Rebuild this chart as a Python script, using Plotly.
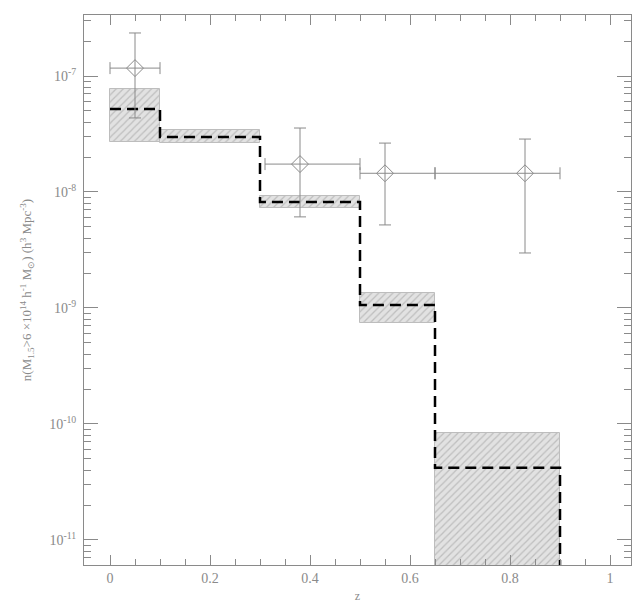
import plotly.graph_objects as go

# Histogram bins (redshift) and model prediction (dashed) with uncertainty boxes
bin_edges = [0.0, 0.1, 0.3, 0.5, 0.65, 0.9]
model_vals = [5.2e-8, 2.98e-8, 8.2e-9, 1.06e-9, 4.2e-11]
box_high = [7.7e-8, 3.42e-8, 9.2e-9, 1.35e-9, 8.4e-11]
box_low = [2.7e-8, 2.64e-8, 7.3e-9, 7.4e-10, 1.0e-12]
floor_val = 1.0e-12

# Observed points
obs_z = [0.05, 0.38, 0.55, 0.83]
obs_z_lo = [0.0, 0.31, 0.5, 0.65]
obs_z_hi = [0.1, 0.5, 0.65, 0.9]
obs_n = [1.17e-7, 1.74e-8, 1.45e-8, 1.45e-8]
obs_n_hi = [2.35e-7, 3.56e-8, 2.64e-8, 2.86e-8]
obs_n_lo = [4.35e-8, 6.1e-9, 5.2e-9, 2.98e-9]

x_tick_vals = [0, 0.2, 0.4, 0.6, 0.8, 1]
x_tick_text = ["0", "0.2", "0.4", "0.6", "0.8", "1"]
y_tick_vals = [1e-7, 1e-8, 1e-9, 1e-10, 1e-11]
y_tick_text = ["10<sup>-7</sup>", "10<sup>-8</sup>", "10<sup>-9</sup>", "10<sup>-10</sup>", "10<sup>-11</sup>"]

gray = "#8a8a8a"
font_family = "Liberation Serif"

fig = go.Figure()

centers = [(a + b) / 2 for a, b in zip(bin_edges[:-1], bin_edges[1:])]
widths = [b - a for a, b in zip(bin_edges[:-1], bin_edges[1:])]
heights = [h - l for h, l in zip(box_high, box_low)]

fig.add_trace(go.Bar(
    x=centers, y=heights, base=box_low, width=widths,
    marker=dict(
        color="#d9d9d9",
        line=dict(color="#bdbdbd", width=1),
        pattern=dict(shape="/", fgcolor="#9a9a9a", bgcolor="#e2e2e2", size=5, solidity=0.25),
    ),
    showlegend=False, hoverinfo="skip",
))

# dashed step line
fig.add_trace(go.Scatter(
    x=bin_edges + [bin_edges[-1]],
    y=model_vals + [model_vals[-1], floor_val],
    mode="lines", line=dict(color="black", width=2.5, dash="11px,6px", shape="hv"),
    showlegend=False, hoverinfo="skip",
))

fig.add_trace(go.Scatter(
    x=obs_z, y=obs_n, mode="markers",
    marker=dict(symbol="diamond-open", size=13, color=gray, line=dict(width=1, color=gray)),
    error_x=dict(type="data", symmetric=False,
                 array=[h - c for h, c in zip(obs_z_hi, obs_z)],
                 arrayminus=[c - l for l, c in zip(obs_z_lo, obs_z)],
                 color=gray, thickness=1, width=6),
    error_y=dict(type="data", symmetric=False,
                 array=[h - c for h, c in zip(obs_n_hi, obs_n)],
                 arrayminus=[c - l for l, c in zip(obs_n_lo, obs_n)],
                 color=gray, thickness=1, width=6),
    showlegend=False,
))

fig.update_layout(
    width=632, height=605,
    margin=dict(l=84, r=1, t=15, b=40),
    paper_bgcolor="white", plot_bgcolor="white",
    font=dict(family=font_family, color=gray, size=14),
    bargap=0,
)

fig.update_xaxes(
    range=[-0.052, 1.042],
    tickvals=x_tick_vals, ticktext=x_tick_text,
    ticks="inside", ticklen=10, tickcolor=gray,
    minor=dict(ticks="inside", ticklen=6, dtick=0.05, tick0=0, tickcolor=gray),
    showline=True, linecolor=gray, linewidth=1, mirror="ticks",
    showgrid=False, zeroline=False,
    title=dict(text="z", font=dict(size=12, color=gray), standoff=6),
    tickfont=dict(size=14, color=gray),
)

fig.update_yaxes(
    type="log",
    range=[-11.216, -6.474],
    tickvals=y_tick_vals, ticktext=y_tick_text,
    ticks="inside", ticklen=14, tickcolor=gray,
    minor=dict(ticks="inside", ticklen=7, dtick="D1", tickcolor=gray),
    showline=True, linecolor=gray, linewidth=1, mirror="ticks",
    showgrid=False, zeroline=False,
    ticklabelstandoff=4,
    title=dict(text="n(M<sub>1.5</sub>>6 ×10<sup>14</sup> h<sup>-1</sup> M<sub>⊙</sub>) (h<sup>3</sup> Mpc<sup>-3</sup>)",
               font=dict(size=13, color=gray), standoff=14),
    tickfont=dict(size=14, color=gray),
)

fig.write_html("out.html")
